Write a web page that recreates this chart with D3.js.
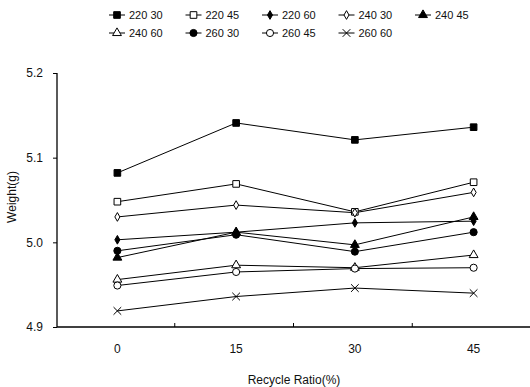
<!DOCTYPE html>
<html>
<head>
<meta charset="utf-8">
<script src="https://cdn.jsdelivr.net/npm/d3@7"></script>
<style>
  body { margin: 0; background: #fff; }
  svg { display: block; font-family: "Liberation Sans", Arial, sans-serif; }
</style>
</head>
<body>
<div id="chart"></div>
<script>
// Weight vs recycle ratio, one line per (temperature, time) condition

var categories = ['0', '15', '30', '45'];
var seriesNames = ['220 30', '220 45', '220 60', '240 30', '240 45',
                   '240 60', '260 30', '260 45', '260 60'];
var s220_30 = [5.082, 5.141, 5.121, 5.136];
var s220_45 = [5.048, 5.069, 5.036, 5.071];
var s220_60 = [5.003, 5.012, 5.023, 5.025];
var s240_30 = [5.030, 5.044, 5.035, 5.059];
var s240_45 = [4.982, 5.012, 4.997, 5.030];
var s240_60 = [4.956, 4.973, 4.970, 4.985];
var s260_30 = [4.990, 5.009, 4.989, 5.012];
var s260_45 = [4.949, 4.965, 4.969, 4.970];
var s260_60 = [4.919, 4.936, 4.946, 4.940];
var yTicks = [4.9, 5.0, 5.1, 5.2];

var seriesValues = [s220_30, s220_45, s220_60, s240_30, s240_45,
                    s240_60, s260_30, s260_45, s260_60];
// marker: [shape, filled, size]
var markers = [
    [d3.symbolSquare, true, 44],
    [d3.symbolSquare, false, 44],
    [d3.symbolDiamond, true, 22],
    [d3.symbolDiamond, false, 22],
    [d3.symbolTriangle, true, 34],
    [d3.symbolTriangle, false, 34],
    [d3.symbolCircle, true, 40],
    [d3.symbolCircle, false, 40],
    [d3.symbolTimes, false, 40]
];

var width = 530, height = 387;
var margin = { top: 73, right: 0, bottom: 60, left: 57 };
var innerW = width - margin.left - margin.right;
var innerH = height - margin.top - margin.bottom;

var svg = d3.select('#chart').append('svg')
    .attr('width', width)
    .attr('height', height);

var g = svg.append('g')
    .attr('transform', 'translate(' + margin.left + ',' + margin.top + ')');

var x = d3.scaleBand().domain(categories).range([1, innerW + 3]);
var y = d3.scaleLinear().domain([4.9, 5.2]).range([innerH, 0]);

// Y axis
var yAxis = g.append('g')
    .call(d3.axisLeft(y).tickValues(yTicks).tickFormat(d3.format('.1f')).tickSize(4).tickPadding(10));
yAxis.selectAll('text').attr('font-size', '12px').attr('fill', '#111');
yAxis.select('.domain').attr('d', 'M0,0V' + innerH);

// X axis: labels at band centres, ticks at band boundaries
var xAxis = g.append('g')
    .attr('transform', 'translate(0,' + innerH + ')');
xAxis.append('line')
    .attr('x1', 0).attr('x2', innerW)
    .attr('stroke', '#000').attr('stroke-width', 1.3);
xAxis.selectAll('.bound')
    .data(categories.slice(0, 3))
    .join('line')
    .attr('class', 'bound')
    .attr('x1', function (d) { return x(d) + x.bandwidth() - 2; })
    .attr('x2', function (d) { return x(d) + x.bandwidth() - 2; })
    .attr('y1', 0).attr('y2', -4)
    .attr('stroke', '#000');
xAxis.selectAll('.lab')
    .data(categories)
    .join('text')
    .attr('class', 'lab')
    .attr('x', function (d) { return x(d) + x.bandwidth() / 2; })
    .attr('y', 26)
    .attr('text-anchor', 'middle')
    .attr('font-size', '12px')
    .attr('fill', '#111')
    .text(function (d) { return d; });

g.selectAll('.domain').attr('stroke', '#000').attr('stroke-width', 1.3);

// Axis titles
svg.append('text')
    .attr('x', 294)
    .attr('y', 384)
    .attr('text-anchor', 'middle')
    .attr('font-size', '12px')
    .attr('fill', '#111')
    .text('Recycle Ratio(%)');

svg.append('text')
    .attr('transform', 'translate(16,' + (margin.top + innerH / 2 - 3) + ') rotate(-90)')
    .attr('text-anchor', 'middle')
    .attr('font-size', '12px')
    .attr('fill', '#111')
    .text('Weight(g)');

var line = d3.line()
    .x(function (d, i) { return x(categories[i]) + x.bandwidth() / 2; })
    .y(function (d) { return y(d); });

function drawMarker(sel, m) {
    sel.attr('d', d3.symbol().type(m[0]).size(m[2]))
        .attr('fill', m[1] ? '#000' : '#fff')
        .attr('stroke', '#000')
        .attr('stroke-width', 1);
}

seriesValues.forEach(function (vals, si) {
    g.append('path')
        .datum(vals)
        .attr('d', line)
        .attr('fill', 'none')
        .attr('stroke', '#000')
        .attr('stroke-width', 1);
});

seriesValues.forEach(function (vals, si) {
    g.selectAll('.m' + si)
        .data(vals)
        .join('path')
        .attr('class', 'm' + si)
        .attr('transform', function (d, i) {
            return 'translate(' + (x(categories[i]) + x.bandwidth() / 2) + ',' + y(d) + ')';
        })
        .call(drawMarker, markers[si]);
});

// Legend: two rows of five columns
var legend = svg.append('g');
seriesNames.forEach(function (name, i) {
    var col = i % 5, row = Math.floor(i / 5);
    var lx = 117 + col * 76.5, ly = 15 + row * 18;
    var item = legend.append('g').attr('transform', 'translate(' + lx + ',' + ly + ')');
    item.append('line')
        .attr('x1', -8).attr('x2', 8)
        .attr('stroke', '#000').attr('stroke-width', 1);
    item.append('path').call(drawMarker, markers[i]);
    item.append('text')
        .attr('x', 12)
        .attr('y', 4)
        .attr('font-size', '11px')
        .attr('fill', '#111')
        .text(name);
});
</script>
</body>
</html>
